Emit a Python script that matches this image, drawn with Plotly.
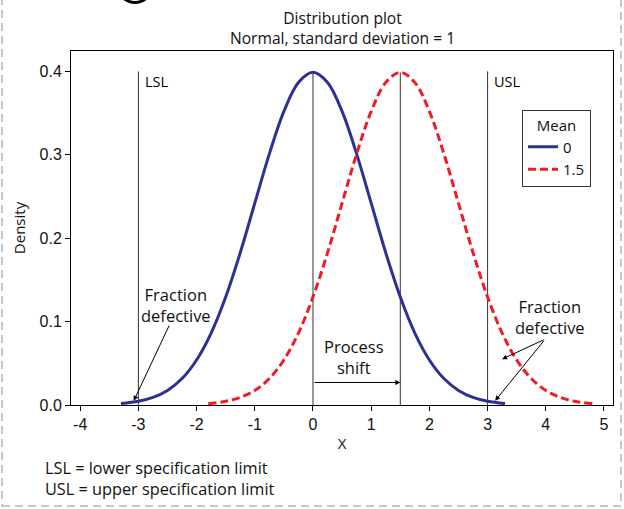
import plotly.graph_objects as go

# ---- data ----
x_mean0 = [-3.3, -3.0, -2.75, -2.5, -2.25, -2.0, -1.75, -1.5, -1.25, -1.0, -0.75, -0.5, -0.25, 0.0,
           0.25, 0.5, 0.75, 1.0, 1.25, 1.5, 1.75, 2.0, 2.25, 2.5, 2.75, 3.0, 3.3]
y_mean0 = [0.0017, 0.0044, 0.0091, 0.0175, 0.0317, 0.0540, 0.0863, 0.1295, 0.1826, 0.2420, 0.3011, 0.3521, 0.3867, 0.3989,
           0.3867, 0.3521, 0.3011, 0.2420, 0.1826, 0.1295, 0.0863, 0.0540, 0.0317, 0.0175, 0.0091, 0.0044, 0.0017]
x_mean15 = [-1.8, -1.5, -1.25, -1.0, -0.75, -0.5, -0.25, 0.0, 0.25, 0.5, 0.75, 1.0, 1.25, 1.5,
            1.75, 2.0, 2.25, 2.5, 2.75, 3.0, 3.25, 3.5, 3.75, 4.0, 4.25, 4.5, 4.8]
y_mean15 = [0.0017, 0.0044, 0.0091, 0.0175, 0.0317, 0.0540, 0.0863, 0.1295, 0.1826, 0.2420, 0.3011, 0.3521, 0.3867, 0.3989,
            0.3867, 0.3521, 0.3011, 0.2420, 0.1826, 0.1295, 0.0863, 0.0540, 0.0317, 0.0175, 0.0091, 0.0044, 0.0017]
series_names = ["0", "1.5"]
spec_limits = [-3, 3]
spec_labels = ["LSL", "USL"]
spec_top = 0.4
means = [0, 1.5]
peak = 0.3989
x_ticks = [-4, -3, -2, -1, 0, 1, 2, 3, 4, 5]
x_tick_labels = ["-4", "-3", "-2", "-1", "0", "1", "2", "3", "4", "5"]
y_ticks = [0.0, 0.1, 0.2, 0.3, 0.4]
y_tick_labels = ["0.0", "0.1", "0.2", "0.3", "0.4"]

TFONT = "Open Sans, Noto Sans, sans-serif"
NFONT = "Liberation Sans, Arial, sans-serif"
BLUE = "#2E3192"
RED = "#EE1C25"
LINE = "#333333"

# page-pixel -> paper helpers (plot area: x 71..613, y 51..405)
def px(v):
    return (v - 71) / 542

def py(v):
    return (405 - v) / 354

fig = go.Figure()
fig.add_trace(go.Scatter(x=x_mean0, y=y_mean0, mode="lines", name=series_names[0],
                         line=dict(color=BLUE, width=3, shape="spline"), hoverinfo="skip"))
fig.add_trace(go.Scatter(x=x_mean15, y=y_mean15, mode="lines", name=series_names[1],
                         line=dict(color=RED, width=3, shape="spline", dash="8px,4px"), hoverinfo="skip"))

shapes = []
for xv in spec_limits:
    shapes.append(dict(type="line", xref="x", yref="y", x0=xv, x1=xv, y0=0, y1=spec_top,
                       line=dict(color=LINE, width=1), layer="below"))
for xv in means:
    shapes.append(dict(type="line", xref="x", yref="y", x0=xv, x1=xv, y0=0, y1=peak,
                       line=dict(color=LINE, width=1), layer="below"))
# dashed page border
shapes.append(dict(type="rect", xref="paper", yref="paper",
                   x0=px(2), x1=px(621), y0=py(506), y1=py(-20),
                   line=dict(color="#c8c8c8", width=2, dash="8px,5px")))
# fragment of a cropped heading glyph at the very top
frag = (f"M {px(122)},{py(-1)} Q {px(135)},{py(9)} {px(148)},{py(-1)} "
        f"L {px(143)},{py(-1)} Q {px(135)},{py(3)} {px(127)},{py(-1)} Z")
shapes.append(dict(type="path", xref="paper", yref="paper", path=frag,
                   fillcolor="black", line=dict(color="black", width=0)))

annotations = []
for xv, lab in zip(spec_limits, spec_labels):
    annotations.append(dict(x=xv + 0.08, y=spec_top + 0.002, xref="x", yref="y", text=lab, showarrow=False,
                            xanchor="left", yanchor="top", font=dict(size=14.5, color="black", family=TFONT)))

text_font = dict(size=16.5, color="#111111", family=TFONT)
annotations += [
    dict(x=-2.35, y=0.12, text="Fraction<br>defective", showarrow=False, font=text_font, xref="x", yref="y"),
    dict(x=4.07, y=0.105, text="Fraction<br>defective", showarrow=False, font=text_font, xref="x", yref="y"),
    dict(x=0.7, y=0.058, text="Process<br>shift", showarrow=False, font=text_font, xref="x", yref="y"),
    # arrows
    dict(x=-3.08, y=0.005, ax=-2.46, ay=0.097, xref="x", yref="y", axref="x", ayref="y", text="",
         showarrow=True, arrowhead=2, arrowsize=1, arrowwidth=1, arrowcolor="black"),
    dict(x=3.25, y=0.055, ax=3.99, ay=0.079, xref="x", yref="y", axref="x", ayref="y", text="",
         showarrow=True, arrowhead=2, arrowsize=1, arrowwidth=1, arrowcolor="black"),
    dict(x=3.13, y=0.005, ax=3.99, ay=0.079, xref="x", yref="y", axref="x", ayref="y", text="",
         showarrow=True, arrowhead=2, arrowsize=1, arrowwidth=1, arrowcolor="black"),
    dict(x=1.5, y=0.027, ax=0.0, ay=0.027, xref="x", yref="y", axref="x", ayref="y", text="",
         showarrow=True, arrowhead=2, arrowsize=1, arrowwidth=1, arrowcolor="black"),
    # footnote
    dict(x=px(43), y=py(455), xref="paper", yref="paper", xanchor="left", yanchor="top",
         align="left", showarrow=False,
         text="LSL = lower specification limit<br>USL = upper specification limit",
         font=dict(size=16.3, color="#111111", family=TFONT)),
    # title
    dict(x=0.5, y=py(5), xref="paper", yref="paper", xanchor="center", yanchor="top",
         showarrow=False, text="Distribution plot<br>Normal, standard deviation = 1",
         font=dict(size=15.6, color="#111111", family=TFONT)),
]

fig.update_layout(
    width=624, height=509,
    margin=dict(l=71, r=11, t=51, b=104),
    paper_bgcolor="white", plot_bgcolor="white",
    font=dict(family=TFONT, size=14, color="#111111"),
    showlegend=True,
    legend=dict(x=px(522), y=py(110), xanchor="left", yanchor="top",
                bordercolor="#333333", borderwidth=1, bgcolor="white",
                title=dict(text="Mean", side="top center", font=dict(size=15, family=TFONT)),
                font=dict(size=15, family=TFONT), itemwidth=30, tracegroupgap=0),
    xaxis=dict(range=[-4.158, 5.155], tickvals=x_ticks, ticktext=x_tick_labels, ticks="outside", ticklen=5,
               tickcolor="black",
               showline=True, linecolor="black", linewidth=1, mirror=True, showgrid=False, zeroline=False,
               title=dict(text="X", standoff=6, font=dict(size=15, family=TFONT)),
               tickfont=dict(size=16, family=NFONT)),
    yaxis=dict(range=[0, 0.4245], tickvals=y_ticks, ticktext=y_tick_labels, ticks="outside", ticklen=5,
               tickcolor="black", showline=True, linecolor="black", linewidth=1, mirror=True,
               showgrid=False, zeroline=False,
               title=dict(text="Density", standoff=10, font=dict(size=15, family=TFONT)),
               tickfont=dict(size=16, family=NFONT)),
    shapes=shapes, annotations=annotations,
)

fig.write_html("out.html", config={"displayModeBar": False},
               post_script="document.body.style.margin='0px';")
